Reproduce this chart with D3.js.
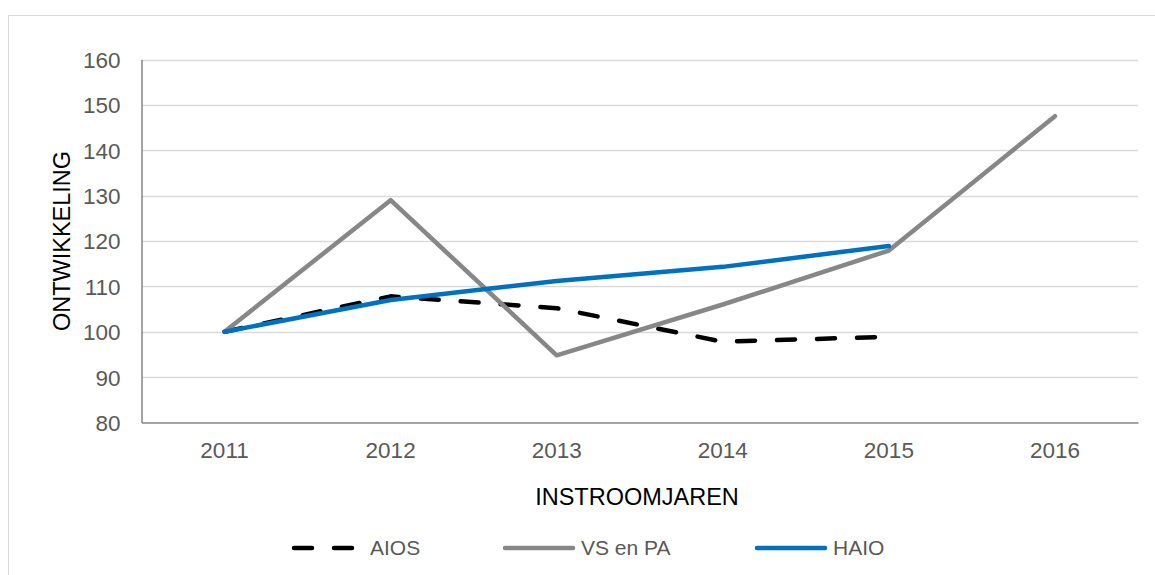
<!DOCTYPE html>
<html>
<head>
<meta charset="utf-8">
<script src="https://cdnjs.cloudflare.com/ajax/libs/d3/7.8.5/d3.min.js"></script>
<style>
  body { margin: 0; background: #fff; }
  svg text { font-family: "Liberation Sans", Arial, sans-serif; }
</style>
</head>
<body>
<script>
'use strict';

// chart values
const years = ['2011', '2012', '2013', '2014', '2015', '2016'];
const aios = [100, 107.8, 105.2, 97.8, 98.9];
const vsPa = [100, 129, 94.8, 106, 117.9, 147.5];
const haio = [100, 107, 111.2, 114.3, 118.9];
const yTicks = [80, 90, 100, 110, 120, 130, 140, 150, 160];
const seriesNames = ['AIOS', 'VS en PA', 'HAIO'];

(function() {
  const width = 1155, height = 575;
  const svg = d3.select('body').append('svg')
    .attr('width', width)
    .attr('height', height);

  // outer chart border
  svg.append('rect')
    .attr('x', 8.5).attr('y', 15.5)
    .attr('width', 1170).attr('height', 600)
    .attr('fill', 'none')
    .attr('stroke', '#d9d9d9')
    .attr('stroke-width', 1);

  const left = 141.5, right = 1138, top = 59.5, bottom = 422.5;

  const x = d3.scaleBand().domain(years).range([left, right]);
  const y = d3.scaleLinear().domain([80, 160]).range([bottom, top]);

  // gridlines
  svg.append('g')
    .selectAll('line')
    .data(yTicks.slice(1))
    .enter()
    .append('line')
      .attr('x1', left).attr('x2', right)
      .attr('y1', d => Math.round(y(d)) + 0.5)
      .attr('y2', d => Math.round(y(d)) + 0.5)
      .attr('stroke', '#d9d9d9')
      .attr('stroke-width', 1.5);

  // y axis
  const yAxis = d3.axisLeft(y).tickValues(yTicks).tickSize(0).tickPadding(21);
  const gy = svg.append('g')
    .attr('transform', `translate(${left},0)`)
    .call(yAxis);
  gy.select('.domain').attr('stroke', '#868686').attr('stroke-width', 1.5);
  gy.selectAll('text')
    .attr('fill', '#595959')
    .style('font-size', '22.5px')
    .attr('dy', '0.35em');

  // x axis
  const xAxis = d3.axisBottom(x).tickSize(0).tickPadding(20);
  const gx = svg.append('g')
    .attr('transform', `translate(0,${bottom})`)
    .call(xAxis);
  gx.select('.domain').attr('stroke', '#868686').attr('stroke-width', 1.5);
  gx.selectAll('text')
    .attr('fill', '#595959')
    .style('font-size', '22.5px');

  // axis titles
  svg.append('text')
    .attr('transform', `translate(70, ${(top + bottom) / 2})rotate(-90)`)
    .attr('text-anchor', 'middle')
    .style('font-size', '23.5px')
    .attr('fill', '#000')
    .text('ONTWIKKELING');

  svg.append('text')
    .attr('x', 637).attr('y', 505)
    .attr('text-anchor', 'middle')
    .style('font-size', '23.5px')
    .attr('fill', '#000')
    .text('INSTROOMJAREN');

  const cx = (i) => x(years[i]) + x.bandwidth() / 2;
  const line = d3.line()
    .x((d, i) => cx(i))
    .y(d => y(d));

  const styles = [
    { data: aios, color: '#000000', dash: '18,22' },
    { data: vsPa, color: '#878787', dash: null },
    { data: haio, color: '#0070c0', dash: null }
  ];

  styles.forEach(s => {
    svg.append('path')
      .datum(s.data)
      .attr('d', line)
      .attr('fill', 'none')
      .attr('stroke', s.color)
      .attr('stroke-width', 4.5)
      .attr('stroke-linejoin', 'round')
      .attr('stroke-linecap', 'round')
      .attr('stroke-dasharray', s.dash);
  });

  // legend
  const legendX = [294, 505, 757];
  const legend = svg.selectAll('.legend')
    .data(seriesNames)
    .enter()
    .append('g')
    .attr('class', 'legend')
    .attr('transform', (d, i) => `translate(${legendX[i]}, 548)`);

  legend.append('line')
    .attr('x1', 0).attr('x2', (d, i) => i === 0 ? 58 : 68)
    .attr('y1', 0).attr('y2', 0)
    .attr('stroke', (d, i) => styles[i].color)
    .attr('stroke-width', 4.5)
    .attr('stroke-linecap', 'round')
    .attr('stroke-dasharray', (d, i) => styles[i].dash);

  legend.append('text')
    .attr('x', 76)
    .attr('y', 0)
    .attr('dy', '0.35em')
    .attr('fill', '#595959')
    .style('font-size', '21px')
    .text(d => d);
})();
</script>
</body>
</html>
